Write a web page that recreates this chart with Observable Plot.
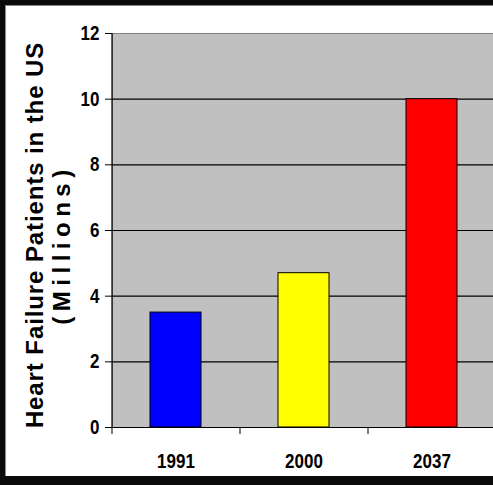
<!DOCTYPE html>
<html>
<head>
<meta charset="utf-8">
<script src="https://cdn.jsdelivr.net/npm/d3@7"></script>
<script src="https://cdn.jsdelivr.net/npm/@observablehq/plot@0.6"></script>
<style>
  html, body { margin: 0; padding: 0; background: #0b0b0b; }
  #wrap {
    position: absolute; left: 5px; top: 5px;
    width: 488px; height: 471px; box-sizing: border-box;
    background: #ffffff; border-top: 1px solid #8a8a8a; border-left: 1px solid #8a8a8a;
    overflow: hidden;
  }
  #wrap svg { display: block; }
</style>
</head>
<body>
<div id="wrap"></div>
<script>
const years = ["1991", "2000", "2037"];
const patients = [3.5, 4.7, 10.0];
const barColors = ["#0000ff", "#ffff00", "#ff0000"];
const yTicks = [0, 2, 4, 6, 8, 10, 12];
const gridValues = [2, 4, 6, 8, 10];
const titleLine1 = "Heart Failure Patients in the US";
const titleLine2 = "(Millions)";

const data = years.map((year, i) => ({year, value: patients[i], color: barColors[i]}));

const W = 487, H = 470;
const mL = 106, mR = -3, mT = 27, mB = 49;
const step = (W - mR - mL) / years.length;
const tickFont = "'Liberation Sans', Arial, sans-serif";
const titleFont = "'Liberation Sans', Arial, sans-serif";

const chart = Plot.plot({
  width: W, height: H,
  marginLeft: mL, marginRight: mR, marginTop: mT, marginBottom: mB,
  style: {background: "transparent", fontFamily: tickFont, fontSize: "17px", fontWeight: "bold", color: "black"},
  x: {type: "band", domain: years, paddingInner: 0.6, paddingOuter: 0.3, label: null, tickSize: 0, tickPadding: 26},
  y: {domain: [0, 12], ticks: yTicks, tickSize: 7, tickPadding: 6, label: null},
  color: {type: "identity"},
  marks: [
    Plot.frame({fill: "#c0c0c0", stroke: "#808080"}),
    Plot.ruleY(gridValues, {stroke: "black", strokeWidth: 1.2}),
    Plot.barY(data, {x: "year", y: "value", fill: "color", stroke: "black", strokeWidth: 1}),
    Plot.ruleY([0], {stroke: "black", strokeWidth: 1.2}),
    Plot.ruleX([years[0]], {x: d => d, y1: 0, y2: 12, dx: -step / 2, stroke: "black", strokeWidth: 1.2}),
    Plot.ruleX(years, {x: d => d, y1: 0, y2: 0, insetBottom: -7, dx: -step / 2, stroke: "black", strokeWidth: 1}),
    Plot.text([titleLine1], {text: d => d, frameAnchor: "left", textAnchor: "middle", rotate: -90, dx: -70, dy: 4.5, lineAnchor: "bottom",
      fontSize: 24, fontWeight: "bold", fontFamily: titleFont, fill: "black"}),
    Plot.text([titleLine2], {text: d => d, frameAnchor: "left", textAnchor: "middle", rotate: -90, dx: -43, dy: 14, lineAnchor: "bottom",
      fontSize: 24, fontWeight: "bold", fontFamily: titleFont, fill: "black"})
  ]
});

chart.querySelectorAll("text").forEach(t => {
  if (t.textContent === titleLine1) t.setAttribute("letter-spacing", "0.9");
  if (t.textContent === titleLine2) t.setAttribute("letter-spacing", "5.5");
});
chart.querySelectorAll('g[aria-label$="tick label"] text').forEach(t => {
  const tr = t.getAttribute("transform") || "";
  t.setAttribute("transform", tr + " scale(1,1.18)");
});

document.getElementById("wrap").appendChild(chart);
</script>
</body>
</html>
